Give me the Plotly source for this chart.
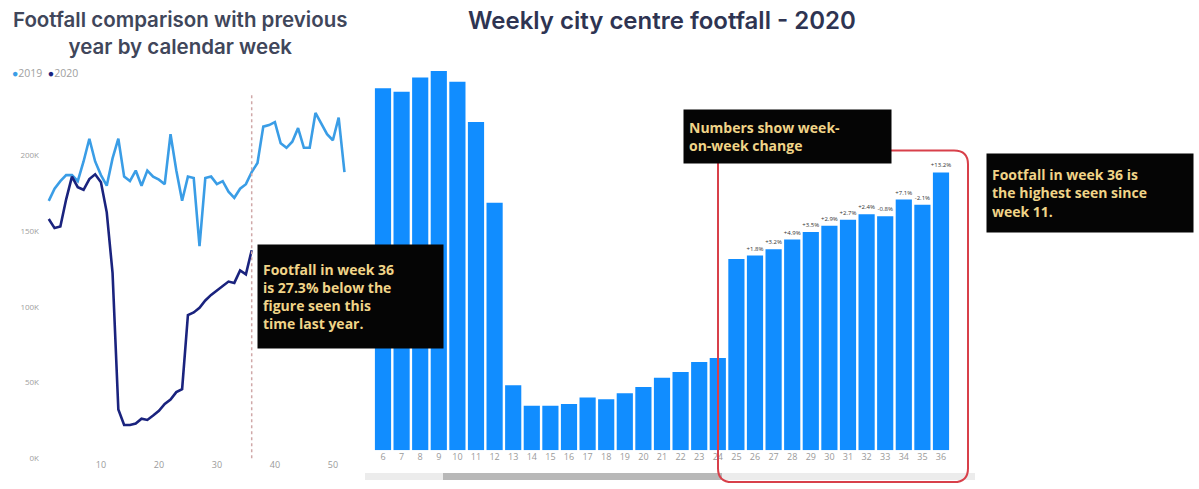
import plotly.graph_objects as go

W, H = 1199, 489

# ---- data (footfall in thousands) ----
weeks_2019 = list(range(1, 53))
footfall_2019 = [170, 178, 183, 187, 187, 183, 196, 211, 196, 187,
                 180, 198, 211, 186, 183, 190, 180, 190, 186, 184,
                 181, 214, 190, 170, 186, 185, 140, 185, 186, 181,
                 183, 176, 172, 178, 181, 189, 195, 219, 220, 222,
                 208, 205, 209, 218, 205, 205, 228, 221, 214, 210,
                 225, 189]

weeks_2020 = list(range(1, 37))
footfall_2020 = [158, 152, 153, 171, 186, 179.0, 177.3, 184.4, 187.5, 182.2,
                 162.4, 122.4, 32.2, 22.0, 22.0, 22.9, 26.1, 25.3, 28.2, 31.3,
                 35.9, 38.8, 43.7, 45.7, 94.6, 96.3, 99.4, 104.2, 107.9, 111.0,
                 114.0, 116.7, 115.8, 124.0, 121.4, 137.4]

bar_first_week = 6
bar_weeks = [str(w) for w in weeks_2020 if w >= bar_first_week]
bar_values = [v for w, v in zip(weeks_2020, footfall_2020) if w >= bar_first_week]
wow_labels = [""] * 20 + ["+1.8%", "+3.2%", "+4.9%", "+3.5%", "+2.9%", "+2.7%",
                          "+2.4%", "-0.8%", "+7.1%", "-2.1%", "+13.2%"]

y_ticks = [0, 50, 100, 150, 200]
y_ticktext = ["0K", "50K", "100K", "150K", "200K"]
x_ticks = [10, 20, 30, 40, 50]

C2019 = "#3a9de6"
C2020 = "#1a237e"
CBAR = "#118DFF"
GOLD = "#f0d488"


def px(x):
    return x / W


def py(y):
    return 1 - y / H


fig = go.Figure()

fig.add_trace(go.Scatter(x=weeks_2019, y=footfall_2019, mode="lines",
                         line=dict(color=C2019, width=2.6), name="2019",
                         xaxis="x", yaxis="y"))
fig.add_trace(go.Scatter(x=weeks_2020, y=footfall_2020, mode="lines",
                         line=dict(color=C2020, width=2.6), name="2020",
                         xaxis="x", yaxis="y"))

fig.add_trace(go.Bar(x=bar_weeks, y=bar_values, marker=dict(color=CBAR, line=dict(width=0)),
                     text=wow_labels, textposition="outside", constraintext="none",
                     textfont=dict(size=6, color="#333333", family="Open Sans"),
                     cliponaxis=False, xaxis="x2", yaxis="y2", name="2020 weekly"))

fig.update_layout(
    width=W, height=H,
    margin=dict(l=0, r=0, t=0, b=0),
    paper_bgcolor="white", plot_bgcolor="white",
    showlegend=False,
    bargap=0.13,
    font=dict(family="Open Sans", color="#555"),
    xaxis=dict(domain=[px(45), px(352)], range=[0.35, 53.3], tickvals=x_ticks,
               showgrid=False, zeroline=False, showline=False, ticks="",
               tickfont=dict(size=9, color="#9a9a9a")),
    yaxis=dict(domain=[py(463), py(100)], range=[0, 237.25], tickvals=y_ticks,
               ticktext=y_ticktext, showgrid=False, zeroline=False, showline=False,
               ticks="", ticklabelstandoff=5, tickfont=dict(size=8, color="#a0a0a0")),
    xaxis2=dict(domain=[px(373.7), px(950.3)], type="category", showgrid=False,
                zeroline=False, showline=False, ticks="", anchor="y2",
                tickfont=dict(size=9, color="#9a9a9a")),
    yaxis2=dict(domain=[py(455), py(60)], range=[0, 193.3], visible=False,
                anchor="x2"),
)

shapes = []
# week 36 marker on the comparison chart
shapes.append(dict(type="line", xref="x", yref="paper", x0=36, x1=36,
                   y0=py(463), y1=py(95), line=dict(color="#d0a8a8", width=1.5, dash="dot")))

# scrollbar under the weekly chart
shapes.append(dict(type="rect", xref="paper", yref="paper", x0=px(365), x1=px(975),
                   y0=py(485), y1=py(478), fillcolor="#ececec", line=dict(width=0), layer="below"))
shapes.append(dict(type="rect", xref="paper", yref="paper", x0=px(443), x1=px(722),
                   y0=py(485), y1=py(478), fillcolor="#b8b8b8", line=dict(width=0), layer="below"))

# rounded red highlight box
x0, x1, y0, y1, r = 718, 968, 152, 487, 14
path = (f"M {px(x0 + r)},{py(y0)} L {px(x1 - r)},{py(y0)} "
        f"Q {px(x1)},{py(y0)} {px(x1)},{py(y0 + r)} "
        f"L {px(x1)},{py(y1 - r)} Q {px(x1)},{py(y1)} {px(x1 - r)},{py(y1)} "
        f"L {px(x0 + r)},{py(y1)} Q {px(x0)},{py(y1)} {px(x0)},{py(y1 - r)} "
        f"L {px(x0)},{py(y0 + r)} Q {px(x0)},{py(y0)} {px(x0 + r)},{py(y0)} Z")
shapes.append(dict(type="path", xref="paper", yref="paper", path=path,
                   line=dict(color="#d8404a", width=2)))
fig.update_layout(shapes=shapes)

annotations = [
    dict(text="Footfall comparison with previous<br>year by calendar week",
         x=px(180), y=py(33), xref="paper", yref="paper", showarrow=False,
         font=dict(family="Inter", size=20.5, color="#40465a", weight=600),
         align="center", xanchor="center", yanchor="middle"),
    dict(text="Weekly city centre footfall - 2020",
         x=px(662), y=py(21), xref="paper", yref="paper", showarrow=False,
         font=dict(family="Inter", size=24, color="#2e3452", weight=600),
         xanchor="center", yanchor="middle"),
    dict(text=f"<span style='color:{C2019}'>●</span>2019  <span style='color:{C2020}'>●</span>2020",
         x=px(10), y=py(74), xref="paper", yref="paper", showarrow=False,
         font=dict(size=10.5, color="#a0a0a0"), xanchor="left", yanchor="middle"),
]

box_font = dict(family="Open Sans", size=14, color=GOLD, weight=700)
boxes = [
    ("Footfall in week 36<br>is 27.3% below the<br>figure seen this<br>time last year.",
     257, 442, 247, 350),
    ("Numbers show week-<br>on-week change", 683, 890, 110, 163),
    ("Footfall in week 36 is<br>the highest seen since<br>week 11.", 986, 1192, 155, 233),
]
for text, bx0, bx1, by0, by1 in boxes:
    annotations.append(dict(text=text, x=px(bx0), y=py(by0), xref="paper", yref="paper",
                            xanchor="left", yanchor="top", showarrow=False,
                            width=bx1 - bx0 - 10, height=by1 - by0 - 10,
                            align="left", valign="middle", bgcolor="#050505",
                            borderpad=5, font=box_font))
fig.update_layout(annotations=annotations)

fig.write_html("out.html")
